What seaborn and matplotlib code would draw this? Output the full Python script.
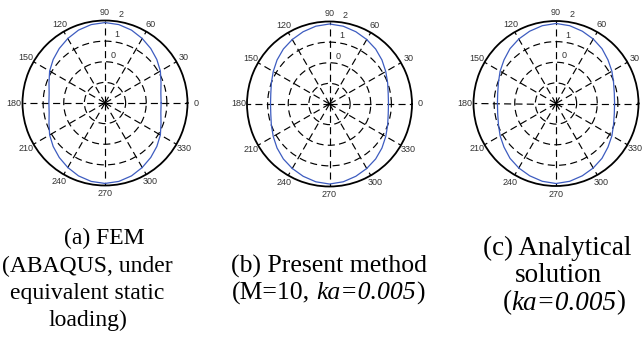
import numpy as np
import pandas as pd
import matplotlib
matplotlib.use("Agg")
import matplotlib.pyplot as plt
import seaborn as sns

sns.set_style("white")
plt.rcParams["font.family"] = ["Liberation Sans", "DejaVu Sans"]

# Directivity pattern radius (log scale, -2 .. 2) sampled every 10 degrees, 0..350
angles_deg = list(range(0, 360, 10))

fem_r = [0.72, 0.75, 0.89, 1.10, 1.28, 1.45, 1.61, 1.76, 1.86, 1.90,
         1.86, 1.76, 1.61, 1.45, 1.28, 1.10, 0.89, 0.75, 0.72,
         0.75, 0.89, 1.10, 1.28, 1.45, 1.61, 1.76, 1.86, 1.90,
         1.86, 1.76, 1.61, 1.45, 1.28, 1.10, 0.89, 0.75]

present_r = [0.86, 0.89, 1.00, 1.15, 1.32, 1.48, 1.61, 1.73, 1.83, 1.88,
             1.83, 1.73, 1.61, 1.48, 1.32, 1.15, 1.00, 0.89, 0.86,
             0.89, 1.00, 1.15, 1.32, 1.48, 1.61, 1.73, 1.83, 1.88,
             1.83, 1.73, 1.61, 1.48, 1.32, 1.15, 1.00, 0.89]

analytic_r = [0.84, 0.87, 0.97, 1.13, 1.29, 1.47, 1.61, 1.73, 1.83, 1.88,
              1.83, 1.73, 1.61, 1.47, 1.29, 1.13, 0.97, 0.87, 0.84,
              0.87, 0.97, 1.13, 1.29, 1.47, 1.61, 1.73, 1.83, 1.88,
              1.83, 1.73, 1.61, 1.47, 1.29, 1.13, 0.97, 0.87]

ring_values = [-1, 0, 1]
ring_labels = ["0", "1", "2"]
spoke_deg = list(range(0, 360, 30))
r_min, r_max = -2, 2

# captions: list of lines, each a list of (text, style) pieces
captions = [
    [[("(a) FEM", "normal")],
     [("(ABAQUS, under", "normal")],
     [("equivalent static", "normal")],
     [("loading)", "normal")]],
    [[("(b) Present method", "normal")],
     [("(M=10, ", "normal"), ("ka=0.005", "italic"), (")", "normal")]],
    [[("(c) Analytical", "normal")],
     [("solution", "normal")],
     [("(", "normal"), ("ka=0.005", "italic"), (")", "normal")]],
]

W, H = 643, 337
fig = plt.figure(figsize=(W / 100, H / 100), dpi=100)

centers = [(105, 103), (329.5, 104), (556, 103.5)]
R = 82.5
caption_x = [[104, 87, 87, 88], [329, 328], [557, 558, 564]]
caption_y = [[238, 266, 293, 320], [266, 293], [248, 275, 303]]
caption_fs = [17, 18.5, 19.5]

series = [fem_r, present_r, analytic_r]
blue = "#3d5cc0"
dash = (0, (6, 3.6))

for k, ((cx, cy), vals) in enumerate(zip(centers, series)):
    ax = fig.add_axes([(cx - R) / W, (H - cy - R) / H, 2 * R / W, 2 * R / H],
                      projection="polar")
    df = pd.DataFrame({
        "theta": np.deg2rad(angles_deg + [360]),
        "r": vals + [vals[0]],
    })
    sns.lineplot(data=df, x="theta", y="r", ax=ax, sort=False, estimator=None,
                 color=blue, linewidth=0.9)
    ax.set_ylim(r_min, r_max)
    ax.set_rgrids(ring_values)
    ax.set_thetagrids(spoke_deg)
    ax.set_yticklabels([])
    ax.set_xticklabels([])
    ax.set_xlabel("")
    ax.set_ylabel("")
    ax.grid(True, color="black", linestyle=dash, linewidth=0.85)
    ax.spines["polar"].set_color("black")
    ax.spines["polar"].set_linewidth(1.3)
    ax.set_facecolor("none")
    for a in spoke_deg:
        # the rightmost panel's 0-degree label falls past the figure edge
        if k == 2 and a == 0:
            continue
        ax.text(np.deg2rad(a), 2.41, str(a), ha="center", va="center",
                fontsize=6.5, color="#333333", clip_on=False)
    for v, lab in zip([0, 1, 2], ring_labels):
        ax.text(np.deg2rad(80), v + 0.36, lab, ha="center", va="center",
                fontsize=6.5, color="#333333", clip_on=False)

renderer = fig.canvas.get_renderer()
serif = "Liberation Serif"


def measure(s, style, fs):
    t = fig.text(0, 0, s, fontsize=fs, family=serif, style=style)
    w = t.get_window_extent(renderer).width
    t.remove()
    return w


for lines, xs, ys, fs in zip(captions, caption_x, caption_y, caption_fs):
    space_w = measure("M M", "normal", fs) - measure("MM", "normal", fs)
    for parts, xc, yc in zip(lines, xs, ys):
        widths = []
        for s, style in parts:
            w = measure(s.strip(), style, fs)
            if s.endswith(" "):
                w += space_w
            widths.append(w)
        x = xc - sum(widths) / 2
        for (s, style), w in zip(parts, widths):
            fig.text(x / W, 1 - yc / H, s.strip(), fontsize=fs, family=serif,
                     style=style, ha="left", va="center", color="black")
            x += w

fig.savefig("out.png", dpi=100)
